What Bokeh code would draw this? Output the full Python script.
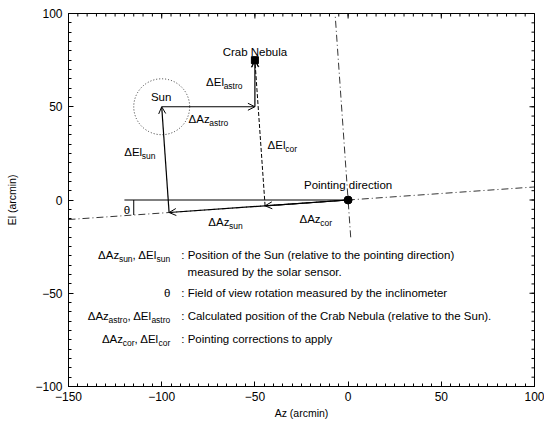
import re
import numpy as np
from bokeh.plotting import figure
from bokeh.models import ColumnDataSource, Arrow, OpenHead, FixedTicker, Range1d
from bokeh.embed import file_html
from bokeh.resources import INLINE
from bokeh.core.properties import value

# ---- values (arcmin / degrees) ----
pointing_az, pointing_el = 0.0, 0.0      # pointing direction
theta_deg = 4.0                          # field of view rotation
sun_az, sun_el = -100.0, 50.0            # Sun in the Az/El frame
d_az_astro, d_el_astro = 50.0, 25.0      # Crab Nebula relative to the Sun
sun_circle_radius = 15.0
ref_line_start = -120.0                  # horizontal reference line start
theta_marker_az = -115.0
vert_axis_bottom = -20.0

x_ticks = [-150, -100, -50, 0, 50, 100]
y_ticks = [-100, -50, 0, 50, 100]
x_minor = list(range(-150, 101, 5))
y_minor = list(range(-100, 101, 5))

legend_keys = ["ΔAz_{sun}, ΔEl_{sun}", "θ",
               "ΔAz_{astro}, ΔEl_{astro}", "ΔAz_{cor}, ΔEl_{cor}"]
legend_desc = [": Position of the Sun (relative to the pointing direction)",
               ": Field of view rotation measured by the inclinometer",
               ": Calculated position of the Crab Nebula (relative to the Sun).",
               ": Pointing corrections to apply"]
legend_extra = "measured by the solar sensor."

X_MIN, X_MAX = -150, 100
Y_MIN, Y_MAX = -100, 100

# ---- geometry in the rotated (instrument) frame ----
th = np.radians(theta_deg)
u = np.array([np.cos(th), np.sin(th)])     # rotated Az direction
v = np.array([-np.sin(th), np.cos(th)])    # rotated El direction
origin = np.array([pointing_az, pointing_el])
sun = np.array([sun_az, sun_el])
crab = sun + np.array([d_az_astro, d_el_astro])
az_sun = (sun - origin) @ u
P = origin + az_sun * u                     # foot of the Sun's El component
az_cor = (crab - origin) @ u
F = origin + az_cor * u                     # foot of the correction El component

FONT = "Liberation Sans"
MAIN = 11.5
SUB = 8.5

# Arial-compatible advance widths (1/1000 em)
ADV = {' ': 278, ',': 278, '(': 333, ')': 333, '.': 278, ':': 278, '-': 333,
       'Δ': 640, 'θ': 556, 'A': 667, 'C': 722, 'E': 667, 'F': 611, 'N': 722,
       'P': 667, 'S': 667, 'a': 556, 'b': 556, 'c': 500, 'd': 556, 'e': 556,
       'f': 278, 'g': 556, 'h': 556, 'i': 222, 'l': 222, 'm': 833, 'n': 556,
       'o': 556, 'p': 556, 'r': 333, 's': 500, 't': 278, 'u': 556, 'v': 500,
       'w': 722, 'y': 500, 'z': 500}


def width(s, size):
    return sum(ADV.get(c, 556) for c in s) * size / 1000.0


def parse(markup):
    parts = []
    for m in re.finditer(r"_\{([^}]*)\}|([^_]+)", markup):
        if m.group(1) is not None:
            parts.append((m.group(1), True))
        else:
            parts.append((m.group(2), False))
    return parts


rich = dict(x=[], y=[], text=[], dx=[], dy=[], fsize=[])


def add_rich(x, y, markup, align="left"):
    parts = parse(markup)
    total = sum(width(t, SUB if s else MAIN) for t, s in parts)
    off = {"left": 0.0, "center": -total / 2, "right": -total}[align]
    for t, s in parts:
        size = SUB if s else MAIN
        rich["x"].append(x)
        rich["y"].append(y)
        rich["text"].append(t)
        rich["dx"].append(off)
        rich["dy"].append(4.0 if s else 0.0)
        rich["fsize"].append(f"{size}px")
        off += width(t, size)


p = figure(frame_width=466, frame_height=373,
           x_range=Range1d(X_MIN, X_MAX), y_range=Range1d(Y_MIN, Y_MAX),
           output_backend="svg", toolbar_location=None,
           min_border_left=68, min_border_right=10,
           min_border_top=13, min_border_bottom=35,
           x_axis_label="Az (arcmin)", y_axis_label="El (arcmin)")
p.xgrid.visible = False
p.ygrid.visible = False
p.outline_line_color = "black"
p.background_fill_color = "white"
p.border_fill_color = "white"

for ax, ticks, minor in ((p.xaxis[0], x_ticks, x_minor), (p.yaxis[0], y_ticks, y_minor)):
    ax.ticker = FixedTicker(ticks=ticks, minor_ticks=minor)
    ax.major_tick_in = 5
    ax.major_tick_out = 0
    ax.minor_tick_in = 3
    ax.minor_tick_out = 0
    ax.axis_line_color = "black"
    ax.major_tick_line_color = "black"
    ax.minor_tick_line_color = "black"
    ax.major_label_text_font = FONT
    ax.major_label_text_font_size = "12px"
    ax.major_label_text_color = "black"
    ax.axis_label_text_font = FONT
    ax.axis_label_text_font_size = "10.5px"
    ax.axis_label_text_font_style = "normal"
    ax.axis_label_text_color = "black"
p.xaxis.major_label_standoff = 5
p.xaxis.axis_label_standoff = 3
p.yaxis.major_label_standoff = 6
p.yaxis.axis_label_standoff = 14

# mirrored tick marks on the top and right frame edges (half clipped by the frame)
p.scatter(x=x_minor, y=[Y_MAX] * len(x_minor), marker="dash", angle=np.pi / 2,
          size=6, line_color="black", line_width=1)
p.scatter(x=x_ticks, y=[Y_MAX] * len(x_ticks), marker="dash", angle=np.pi / 2,
          size=10, line_color="black", line_width=1)
p.scatter(x=[X_MAX] * len(y_minor), y=y_minor, marker="dash",
          size=6, line_color="black", line_width=1)
p.scatter(x=[X_MAX] * len(y_ticks), y=y_ticks, marker="dash",
          size=10, line_color="black", line_width=1)

# rotated reference axes (dash-dot)
xs_h = np.array([float(X_MIN), float(X_MAX)])
h_t = (xs_h - origin[0]) / u[0]
p.line(origin[0] + h_t * u[0], origin[1] + h_t * u[1],
       line_color="black", line_width=0.8, line_dash="7 3 1 3")
ys_v = np.array([vert_axis_bottom, float(Y_MAX)])
v_t = (ys_v - origin[1]) / v[1]
p.line(origin[0] + v_t * v[0], origin[1] + v_t * v[1],
       line_color="black", line_width=0.8, line_dash="7 3 1 3")

# horizontal reference line through the pointing direction
p.line([ref_line_start, origin[0]], [origin[1], origin[1]],
       line_color="black", line_width=1)
# theta marker
t_theta = (theta_marker_az - origin[0]) / u[0]
p.line([theta_marker_az, theta_marker_az],
       [origin[1], origin[1] + t_theta * u[1]], line_color="black", line_width=1)

# Sun's field (dotted circle)
p.circle(x=[sun[0]], y=[sun[1]], radius=sun_circle_radius, fill_color=None,
         line_color="#333333", line_width=1, line_dash="1 2")

# vector arrows
solid = ColumnDataSource(dict(
    x0=[origin[0], P[0], sun[0], sun[0] + d_az_astro, origin[0]],
    y0=[origin[1], P[1], sun[1], sun[1], origin[1]],
    x1=[P[0], sun[0], sun[0] + d_az_astro, crab[0], F[0]],
    y1=[P[1], sun[1], sun[1], crab[1], F[1]],
))
p.add_layout(Arrow(source=solid, x_start="x0", y_start="y0", x_end="x1", y_end="y1",
                   line_color="black", line_width=1.2,
                   end=OpenHead(size=7, line_width=1, line_color="black")))
dashed = ColumnDataSource(dict(x0=[F[0]], y0=[F[1]], x1=[crab[0]], y1=[crab[1]]))
p.add_layout(Arrow(source=dashed, x_start="x0", y_start="y0", x_end="x1", y_end="y1",
                   line_color="black", line_width=1, line_dash="4 2",
                   end=OpenHead(size=7, line_width=1, line_color="black")))

# points
p.scatter(x=[crab[0]], y=[crab[1]], marker="square", size=7, color="black")
p.scatter(x=[origin[0]], y=[origin[1]], marker="circle", size=8, color="black")

# labels on the diagram
add_rich(-50, 79.5, "Crab Nebula", "center")
add_rich(-100.3, 55.2, "Sun", "center")
add_rich(-76.2, 63.1, "ΔEl_{astro}")
add_rich(-85.6, 43.3, "ΔAz_{astro}")
add_rich(-120.1, 25.5, "ΔEl_{sun}")
add_rich(-43.2, 29.5, "ΔEl_{cor}")
add_rich(0, 7.8, "Pointing direction", "center")
add_rich(-75, -11.8, "ΔAz_{sun}")
add_rich(-26.1, -10.0, "ΔAz_{cor}")
add_rich(-118.6, -5.3, "θ", "center")

# explanatory block
key_x, colon_x, cont_x = -95.4, -89.5, -86.1
rows_y = [-29.4, -50.1, -62.1, -74.3]
for key, desc, yy in zip(legend_keys, legend_desc, rows_y):
    add_rich(key_x, yy, key, "right")
    add_rich(colon_x, yy, desc)
add_rich(cont_x, -38.5, legend_extra)

p.text(x="x", y="y", text="text", x_offset="dx", y_offset="dy",
       text_font_size="fsize", source=ColumnDataSource(rich),
       text_font=value(FONT), text_color="black",
       text_align="left", text_baseline="middle")

open("out.html", "w").write(file_html(p, INLINE))
